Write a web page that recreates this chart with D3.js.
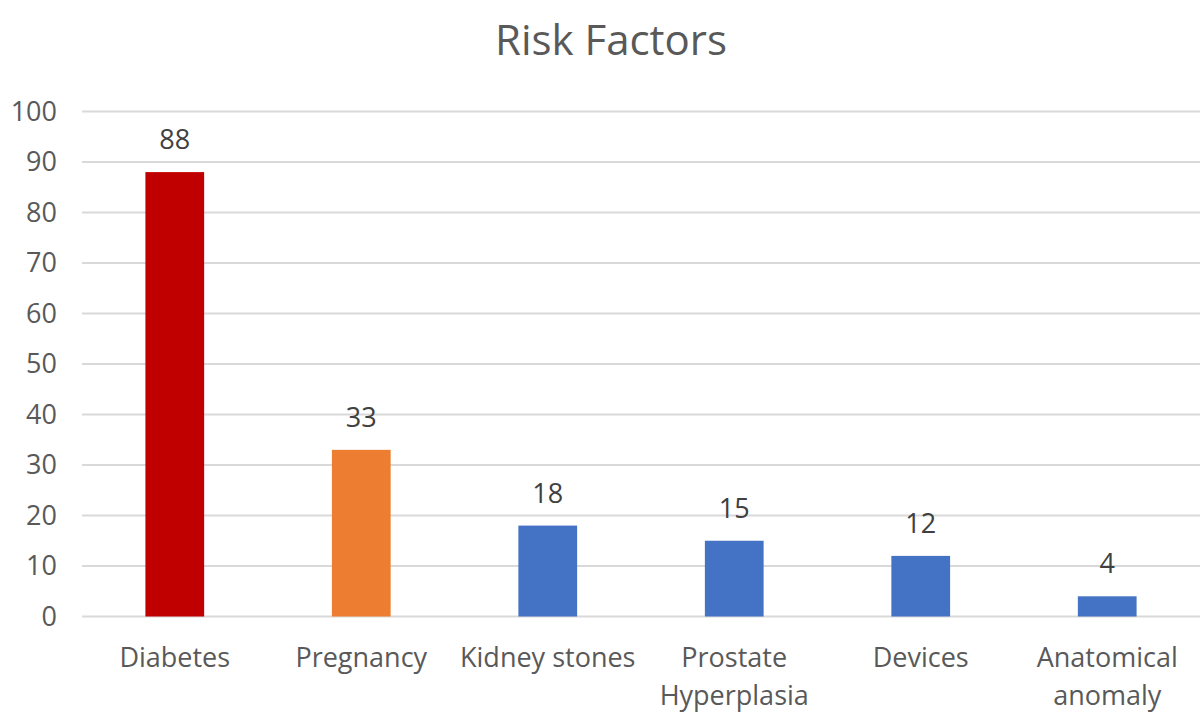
<!DOCTYPE html>
<html>
<head>
<meta charset="utf-8">
<script src="https://cdn.jsdelivr.net/npm/d3@7"></script>
<style>
  body { margin: 0; background: #fff; }
  text { font-family: "Open Sans", "Noto Sans", sans-serif; }
</style>
</head>
<body>
<div id="chart"></div>
<script>
const categories = ['Diabetes', 'Pregnancy', 'Kidney stones', 'Prostate\nHyperplasia', 'Devices', 'Anatomical\nanomaly'];
const values = [88, 33, 18, 15, 12, 4];
const barColors = ['#C00000', '#ED7D31', '#4472C4', '#4472C4', '#4472C4', '#4472C4'];
const yTicks = [0, 10, 20, 30, 40, 50, 60, 70, 80, 90, 100];

const width = 1200, height = 726;
const plotLeft = 82, plotRight = 1200, plotTop = 111.5, plotBottom = 616.5;

const svg = d3.select('#chart').append('svg')
  .attr('width', width)
  .attr('height', height);

// title
svg.append('text')
  .attr('x', 611).attr('y', 55)
  .attr('text-anchor', 'middle')
  .attr('fill', '#595959')
  .style('font-size', '42px')
  .text('Risk Factors');

const x = d3.scaleBand().domain(categories).range([plotLeft, plotRight]).paddingInner(0.685).paddingOuter(0.34);
const y = d3.scaleLinear().domain([0, 100]).range([plotBottom, plotTop]);

// gridlines
svg.append('g').selectAll('line')
  .data(yTicks)
  .enter().append('line')
  .attr('x1', plotLeft).attr('x2', plotRight)
  .attr('y1', d => y(d)).attr('y2', d => y(d))
  .attr('stroke', '#d9d9d9')
  .attr('stroke-width', 2);

// y axis labels
const yAxis = d3.axisLeft(y).tickValues(yTicks).tickSize(0).tickPadding(0);
const gy = svg.append('g').attr('transform', 'translate(57,0)').call(yAxis);
gy.select('.domain').remove();
gy.selectAll('text').attr('fill', '#595959').style('font-size', '27px')
  .attr('font-family', '"Open Sans", "Noto Sans", sans-serif');

// bars
svg.append('g').selectAll('rect')
  .data(values)
  .enter().append('rect')
  .attr('x', (d, i) => x(categories[i]))
  .attr('y', d => y(d))
  .attr('width', x.bandwidth())
  .attr('height', d => y(0) - y(d))
  .attr('fill', (d, i) => barColors[i]);

// data labels
svg.append('g').selectAll('text')
  .data(values)
  .enter().append('text')
  .attr('x', (d, i) => x(categories[i]) + x.bandwidth() / 2)
  .attr('y', d => y(d) - 23)
  .attr('text-anchor', 'middle')
  .attr('fill', '#404040')
  .style('font-size', '27px')
  .text(d => d);

// category labels
const catG = svg.append('g');
categories.forEach((c, i) => {
  const t = catG.append('text')
    .attr('x', x(c) + x.bandwidth() / 2)
    .attr('y', 667)
    .attr('text-anchor', 'middle')
    .attr('fill', '#595959')
    .style('font-size', '27px');
  c.split('\n').forEach((line, j) => {
    t.append('tspan')
      .attr('x', x(c) + x.bandwidth() / 2)
      .attr('dy', j === 0 ? 0 : 38)
      .text(line);
  });
});
</script>
</body>
</html>
